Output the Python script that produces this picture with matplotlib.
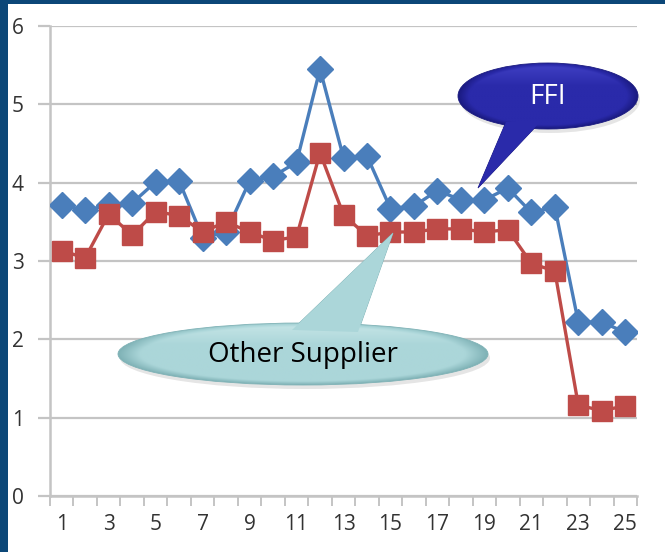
import numpy as np
import matplotlib
matplotlib.use("Agg")
import matplotlib.pyplot as plt
from matplotlib.patches import Ellipse, Polygon, Rectangle
from matplotlib.colors import to_rgb

# scores per survey week
weeks = list(range(1, 26))
ffi = [3.71, 3.65, 3.71, 3.74, 4.01, 4.02, 3.30, 3.37, 4.02, 4.08, 4.26, 5.45, 4.32,
       4.34, 3.67, 3.70, 3.90, 3.78, 3.78, 3.93, 3.62, 3.69, 2.22, 2.22, 2.09]
other = [3.13, 3.04, 3.60, 3.33, 3.63, 3.58, 3.37, 3.50, 3.37, 3.26, 3.31, 4.38, 3.59,
         3.32, 3.37, 3.37, 3.41, 3.41, 3.37, 3.40, 2.97, 2.87, 1.16, 1.09, 1.15]
ffi_name = "FFI"
other_name = "Other Supplier"

W, H = 665, 552
fig = plt.figure(figsize=(W / 100, H / 100), dpi=100)
fig.patch.set_facecolor("#0c4778")

# white slide panel
bg = fig.add_axes([0, 0, 1, 1])
bg.set_xlim(0, W)
bg.set_ylim(H, 0)
bg.axis("off")
bg.add_patch(Rectangle((8, 4), W, H, facecolor="white", edgecolor="none"))

grid_c = "#c4c4c4"
ax = fig.add_axes([50 / W, 56 / H, 587 / W, 470 / H])
ax.set_facecolor("none")
ax.plot(weeks, ffi, color="#4a7ebb", lw=2.4, marker="D", ms=13, mec="#4a7ebb", zorder=3)
ax.plot(weeks, other, color="#be4b48", lw=2.4, marker="s", ms=15, mec="#be4b48", zorder=4)

ax.set_xlim(0.5, 25.5)
ax.set_ylim(0, 6)
ax.set_yticks(range(0, 7))
ax.yaxis.grid(True, color=grid_c, lw=1.6)
ax.set_axisbelow(True)
ax.set_xticks(weeks[::2])
ax.set_xticks(np.arange(0.5, 26, 1), minor=True)
ax.tick_params(axis="x", which="major", length=0, pad=13)
ax.tick_params(axis="x", which="minor", length=7, width=1.4, color=grid_c)
ax.tick_params(axis="y", length=9, width=1.6, color=grid_c, pad=10)
for lbl in ax.get_xticklabels() + ax.get_yticklabels():
    lbl.set_fontfamily("Open Sans")
    lbl.set_fontsize(15)
    lbl.set_color("#333333")
for s in ("top", "right"):
    ax.spines[s].set_visible(False)
for s in ("left", "bottom"):
    ax.spines[s].set_color(grid_c)
    ax.spines[s].set_linewidth(1.8)

# speech bubbles, drawn in pixel space on top of the chart
ov = fig.add_axes([0, 0, 1, 1], zorder=10)
ov.set_xlim(0, W)
ov.set_ylim(H, 0)
ov.axis("off")


def bubble(cx, cy, w, h, tail, light, mid, dark, text, tcolor, tsize):
    ov.add_patch(Ellipse((cx + 2, cy + 4), w, h, facecolor="black", alpha=0.10,
                         edgecolor="none", zorder=1))
    ov.add_patch(Polygon(tail, closed=True, facecolor=mid, edgecolor=dark, lw=0.6,
                         zorder=2))
    body = Ellipse((cx, cy), w, h, facecolor="none", edgecolor=dark, lw=0.6, zorder=4)
    ov.add_patch(body)
    xs = np.linspace(-1, 1, 300)
    ys = np.linspace(-1, 1, 120)
    u, v = np.meshgrid(xs, ys)
    r = np.sqrt(u ** 2 + v ** 2)
    # flat middle, soft highlight near the top, thin darker rim
    t = 0.5 - 0.35 * np.clip((-v - 0.3) / 0.7, 0, 1) + 0.5 * np.clip((r - 0.88) / 0.12, 0, 1)
    t = np.clip(t, 0, 1)[..., None]
    lo, mi, hi = (np.array(to_rgb(c)) for c in (light, mid, dark))
    img = np.where(t < 0.5, lo + (mi - lo) * (t / 0.5), mi + (hi - mi) * ((t - 0.5) / 0.5))
    im = ov.imshow(img, extent=(cx - w / 2, cx + w / 2, cy + h / 2, cy - h / 2),
                   aspect="auto", interpolation="bilinear", zorder=3)
    im.set_clip_path(body)
    # repaint the tail root over the ellipse edge
    ov.add_patch(Polygon(tail, closed=True, facecolor=mid, edgecolor="none", zorder=5))
    ov.text(cx, cy + 1, text, color=tcolor, fontsize=tsize, family="Open Sans",
            ha="center", va="center", zorder=6)


bubble(548, 96, 180, 66,
       [(506, 122), (542, 120), (478, 188)],
       "#4a4ad0", "#2a2aaa", "#1a1a80", ffi_name, "white", 20)
bubble(303, 354, 370, 62,
       [(292, 330), (358, 332), (393, 233)],
       "#d2eced", "#abd6d9", "#7fb2b6", other_name, "black", 20)

fig.savefig("out.png", dpi=100, facecolor=fig.get_facecolor())
